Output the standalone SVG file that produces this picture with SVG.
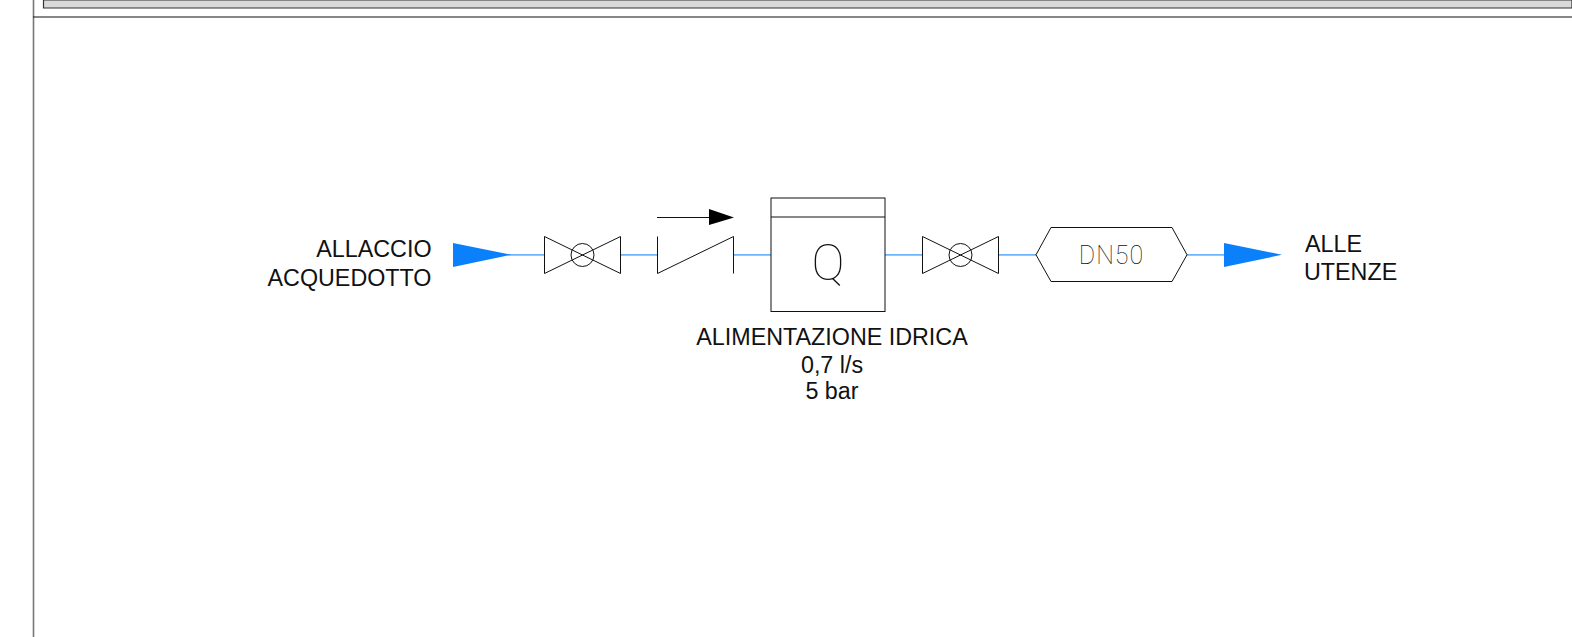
<svg xmlns="http://www.w3.org/2000/svg" width="1572" height="637" viewBox="0 0 1572 637">
<style>
.s{fill:none;stroke:#111;stroke-width:1}
.p{fill:none;stroke:#6cb4fb;stroke-width:1.8}
.a{fill:#0a80fb}
text{font-family:"Liberation Sans",Arial,sans-serif;font-size:23.300px;fill:#111}
.e{text-anchor:end}.m{text-anchor:middle}
.t{font-family:Roboto,"Liberation Sans",sans-serif;font-weight:100;fill:#111}
</style>
<defs>
<g id="valve"><path class="s" d="M0.5 -18.500V18.500L76.500 -18.500V18.500Z"/><circle class="s" cx="38.500" cy="0" r="11.500"/></g>
</defs>
<rect width="1572" height="637" fill="#fff"/>
<g id="frame">
<path d="M33.500 0V637" fill="none" stroke="#777" stroke-width="1.600"/>
<path d="M33 17H1572" fill="none" stroke="#111" stroke-width="1.200"/>
<path d="M43.500 0V8H1572V0Z" fill="#d9d9d9" stroke="#333" stroke-width="1.200"/>
</g>
<g id="connectors">
<path class="p" d="M508 254.800H544M620 254.800H658M733 254.800H771M885 254.800H922M998 254.800H1036M1187 254.800H1226"/>
</g>
<g id="inlet"><path class="a" d="M453 243L511 254.800L453 267Z"/>
<text class="e" x="431.500" y="257">ALLACCIO</text><text class="e" x="431.500" y="286">ACQUEDOTTO</text></g>
<g id="valve-1"><use href="#valve" x="544" y="255"/></g>
<g id="check-valve"><path class="s" d="M657.500 236.500V273.500L733.500 236.500V273.500"/>
<path d="M657 217.500H710" stroke="#111" stroke-width="1" fill="none"/><path d="M709 209L734 217.500L709 225Z" fill="#000"/></g>
<g id="water-supply"><rect class="s" x="771" y="198" width="114" height="113.500"/><path class="s" d="M771 217H885"/>
<text class="t m" x="828" y="280" style="font-size:50px" textLength="33" lengthAdjust="spacingAndGlyphs">Q</text>
<text class="m" x="832" y="345">ALIMENTAZIONE IDRICA</text><text class="m" x="832" y="373">0,7 l/s</text><text class="m" x="832" y="399">5 bar</text></g>
<g id="valve-2"><use href="#valve" x="922" y="255"/></g>
<g id="dn50"><path class="s" d="M1036 254.800L1051 227.500H1172L1187 254.800L1172 281.500H1051Z"/>
<text class="t m" x="1111.500" y="264" style="font-size:25px;letter-spacing:1px">DN50</text></g>
<g id="outlet"><path class="a" d="M1224 243L1282 254.800L1224 267Z"/>
<text x="1305" y="252">ALLE</text><text x="1304" y="280">UTENZE</text></g>
</svg>
